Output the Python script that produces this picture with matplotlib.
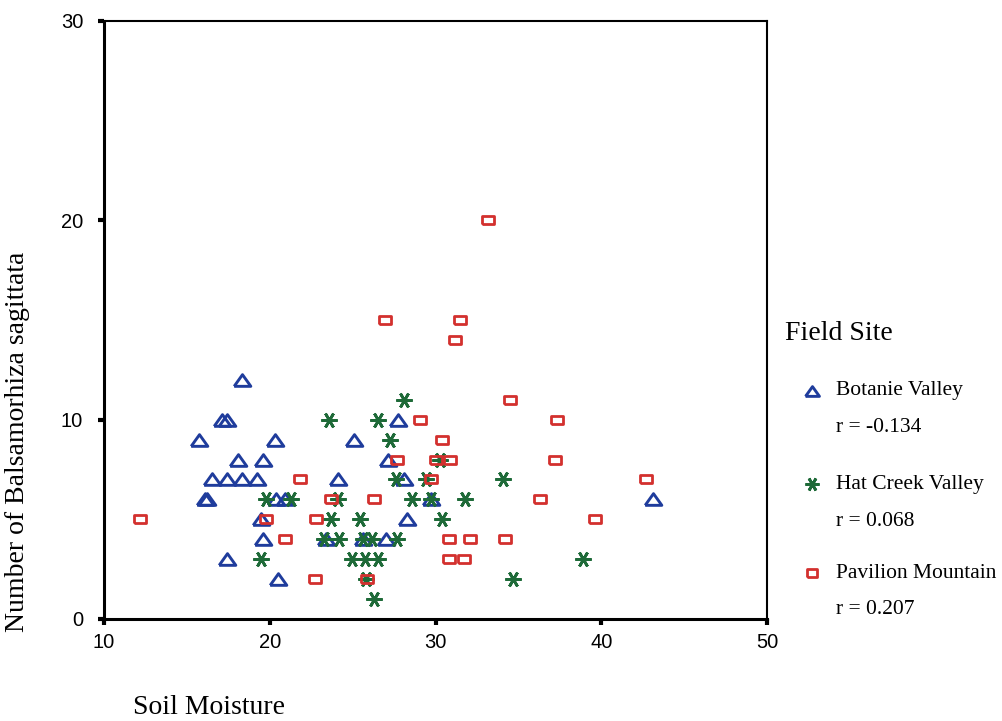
import numpy as np
import matplotlib
matplotlib.use("Agg")
import matplotlib.pyplot as plt
from matplotlib.lines import Line2D

# Botanie Valley (triangles)
bv_x = [18.3, 17.1, 17.4, 15.75, 20.3, 18.1, 19.6, 16.5, 17.4, 18.3, 19.2,
        16.1, 16.2, 20.4, 20.9, 19.5, 19.6, 17.4, 20.5, 25.1, 27.75, 27.15,
        24.1, 28.1, 29.7, 28.3, 27.0, 23.4, 25.6, 43.1]
bv_y = [12, 10, 10, 9, 9, 8, 8, 7, 7, 7, 7,
        6, 6, 6, 6, 5, 4, 3, 2, 9, 10, 8,
        7, 7, 6, 5, 4, 4, 4, 6]

# Hat Creek Valley (asterisks)
hc_x = [28.1, 23.6, 26.55, 27.25, 30.3, 27.6, 29.4, 34.1, 19.8, 21.3, 24.1,
        28.6, 29.7, 31.8, 23.7, 25.45, 30.4, 23.3, 24.2, 25.65, 26.15, 27.65,
        19.5, 24.95, 25.75, 26.55, 38.9, 25.8, 34.7, 26.3]
hc_y = [11, 10, 10, 9, 8, 7, 7, 7, 6, 6, 6,
        6, 6, 6, 5, 5, 5, 4, 4, 4, 4, 4,
        3, 3, 3, 3, 3, 2, 2, 1]

# Pavilion Mountain (squares)
pm_x = [12.2, 33.15, 26.97, 31.5, 31.2, 34.5, 29.05, 37.3, 30.4, 27.65, 30.0,
        30.9, 37.2, 21.8, 29.7, 42.7, 23.7, 26.3, 36.3, 19.75, 22.8, 39.6,
        20.9, 30.8, 32.1, 34.2, 30.8, 31.7, 22.7, 25.85]
pm_y = [5, 20, 15, 15, 14, 11, 10, 10, 9, 8, 8,
        8, 8, 7, 7, 7, 6, 6, 6, 5, 5, 5,
        4, 4, 4, 4, 3, 3, 2, 2]

site_names = ['Botanie Valley', 'Hat Creek Valley', 'Pavilion Mountain']
site_r = ['r = -0.134', 'r = 0.068', 'r = 0.207']

x_ticks = [10, 20, 30, 40, 50]
y_ticks = [0, 10, 20, 30]

blue = '#1f3c9c'
green = '#1e6a38'
red = '#d3302e'

tri = [(-1, -0.7), (1, -0.7), (0, 0.7), (-1, -0.7)]
rect = [(-1, -0.72), (1, -0.72), (1, 0.72), (-1, 0.72), (-1, -0.72)]
star = (6, 2, 90)

styles = [
    dict(marker=tri, ms=12, mew=2.1, mec=blue, mfc='none'),
    dict(marker=star, ms=11.5, mew=2.0, mec=green, mfc=green),
    dict(marker=rect, ms=8.5, mew=2.0, mec=red, mfc='none'),
]

fig = plt.figure(figsize=(10.02, 7.21), dpi=100)
ax = fig.add_axes([0.1038, 0.1415, 0.6617, 0.8294])

for (xs, ys), st in zip([(bv_x, bv_y), (hc_x, hc_y), (pm_x, pm_y)], styles):
    ax.plot(xs, ys, linestyle='none', clip_on=False, **st)

ax.set_xlim(10, 50)
ax.set_ylim(0, 30)
ax.set_xticks(x_ticks)
ax.set_yticks(y_ticks)
ax.tick_params(axis='both', direction='out', length=4, width=3, color='black',
               labelsize=14.5)
ax.tick_params(axis='y', pad=11)
ax.tick_params(axis='x', pad=6)
for lab in ax.get_xticklabels() + ax.get_yticklabels():
    lab.set_fontfamily('Liberation Sans')

for side in ['left', 'bottom']:
    ax.spines[side].set_linewidth(2.2)
for side in ['top', 'right']:
    ax.spines[side].set_linewidth(1.5)

serif = 'Liberation Serif'
fig.text(18 / 1002, 1 - 442 / 721, 'Number of Balsamorhiza sagittata',
         rotation=90, ha='center', va='center', fontsize=20, fontfamily=serif)
fig.text(133 / 1002, 1 - 707 / 721, 'Soil Moisture', ha='left', va='center',
         fontsize=20, fontfamily=serif)

# legend drawn by hand so the marker sits beside the first line
fig.text(785 / 1002, 1 - 334 / 721, 'Field Site', ha='left', va='center',
         fontsize=20, fontfamily=serif)
entry_y = [391, 484, 573]
legend_ms = [10, 10, 7.5]
for yy, name, rr, st, lms in zip(entry_y, site_names, site_r, styles, legend_ms):
    fy = 1 - yy / 721
    st_leg = dict(st, ms=lms)
    fig.add_artist(Line2D([812 / 1002], [fy], transform=fig.transFigure,
                          linestyle='none', **st_leg))
    fig.text(836 / 1002, fy, name, ha='left', va='center', fontsize=15.5,
             fontfamily=serif)
    fig.text(836 / 1002, fy - 37 / 721, rr, ha='left', va='center',
             fontsize=15.5, fontfamily=serif)

fig.savefig('out.png', dpi=100)
